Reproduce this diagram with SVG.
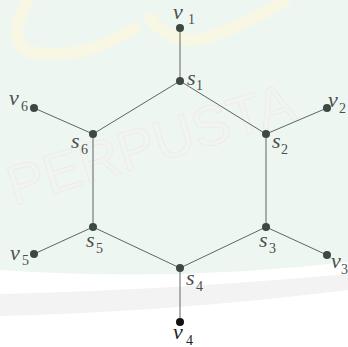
<svg xmlns="http://www.w3.org/2000/svg" width="348" height="347" viewBox="0 0 348 347">
<style>
.e{stroke:#5f6662;stroke-width:1;fill:none}
.d{fill:#3c4842}
.l{font-family:"Liberation Serif","Times New Roman",serif;font-style:italic;font-size:22px;fill:#4a4f4c}
.s{font-family:"Liberation Serif","Times New Roman",serif;font-size:14px;fill:#4a4f4c}
.wm{font-family:"Liberation Sans",Arial,sans-serif;font-size:56px;fill:none;stroke:#f3e9e9;stroke-width:1}
</style>
<rect width="348" height="347" fill="#ffffff"/>
<path d="M0 0H348V262Q180 282 0 270Z" fill="#eef6f2"/>
<path d="M0 294Q170 290 348 274V290Q170 312 0 316Z" fill="#f3f3f3"/>
<g fill="none" stroke="#f8f7e4" stroke-width="12" stroke-linecap="round">
<path d="M28 0Q5 40 30 52Q80 62 135 28"/>
<path d="M150 18Q175 50 215 35Q255 20 285 0"/>
</g>
<text class="wm" transform="translate(14 206) rotate(-17)">PERPUSTA</text>
<g id="connectors">
<line class="e" x1="180" y1="28" x2="180" y2="81"/>
<line class="e" x1="180" y1="81" x2="266" y2="134"/>
<line class="e" x1="266" y1="134" x2="266" y2="227"/>
<line class="e" x1="266" y1="227" x2="180" y2="268"/>
<line class="e" x1="180" y1="268" x2="93" y2="227"/>
<line class="e" x1="93" y1="227" x2="93" y2="134"/>
<line class="e" x1="93" y1="134" x2="180" y2="81"/>
<line class="e" x1="266" y1="134" x2="327" y2="108"/>
<line class="e" x1="266" y1="227" x2="327" y2="255"/>
<line class="e" x1="180" y1="268" x2="180" y2="322"/>
<line class="e" x1="93" y1="227" x2="34" y2="254"/>
<line class="e" x1="93" y1="134" x2="34" y2="108"/>
</g>
<g id="v1"><circle class="d" cx="180" cy="28" r="4"/><text class="l" x="173" y="19">v</text><text class="s" x="188" y="24">1</text></g>
<g id="s1"><circle class="d" cx="180" cy="81" r="4"/><text class="l" x="187" y="85">s</text><text class="s" x="196" y="90">1</text></g>
<g id="v6"><circle class="d" cx="34" cy="108" r="4"/><text class="l" x="9" y="105">v</text><text class="s" x="21" y="111">6</text></g>
<g id="v2"><circle class="d" cx="327" cy="108" r="4"/><text class="l" x="328" y="107">v</text><text class="s" x="339" y="113">2</text></g>
<g id="s6"><circle class="d" cx="93" cy="134" r="4"/><text class="l" x="71" y="148">s</text><text class="s" x="81" y="154">6</text></g>
<g id="s2"><circle class="d" cx="266" cy="134" r="4"/><text class="l" x="272" y="148">s</text><text class="s" x="281" y="154">2</text></g>
<g id="s5"><circle class="d" cx="93" cy="227" r="4"/><text class="l" x="86" y="247">s</text><text class="s" x="96" y="253">5</text></g>
<g id="s3"><circle class="d" cx="266" cy="227" r="4"/><text class="l" x="259" y="247">s</text><text class="s" x="269" y="253">3</text></g>
<g id="v5"><circle class="d" cx="34" cy="254" r="4"/><text class="l" x="10" y="260">v</text><text class="s" x="22" y="265">5</text></g>
<g id="v3"><circle class="d" cx="327" cy="255" r="4"/><text class="l" x="331" y="268">v</text><text class="s" x="341" y="274">3</text></g>
<g id="s4"><circle class="d" cx="180" cy="268" r="4"/><text class="l" x="186" y="285">s</text><text class="s" x="196" y="291">4</text></g>
<g id="v4"><circle cx="180" cy="322" r="4" fill="#111"/><text class="l" x="173" y="339" style="fill:#222">v</text><text class="s" x="186" y="345" style="fill:#222">4</text></g>
</svg>
